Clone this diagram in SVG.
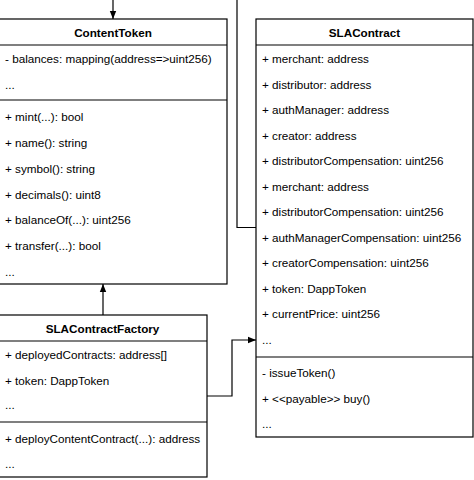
<svg xmlns="http://www.w3.org/2000/svg" width="474" height="480" viewBox="0 0 474 480">
<defs>
<style>
.box{fill:#fff;stroke:#000;stroke-width:1.2}
.sep{stroke:#000;stroke-width:1.2}
.t{font-family:"Liberation Sans",Arial,sans-serif;font-size:11.7px;fill:#000}
.h{font-family:"Liberation Sans",Arial,sans-serif;font-size:11.7px;font-weight:bold;fill:#000;text-anchor:middle}
.c{fill:none;stroke:#000;stroke-width:1.2}
</style>
<marker id="arr" viewBox="0 0 10 10" refX="10" refY="5" markerWidth="8" markerHeight="8" markerUnits="userSpaceOnUse" orient="auto">
<path d="M0,1 L10,5 L0,9 z" fill="#000"/>
</marker>
</defs>
<rect width="474" height="480" fill="#fff"/>
<g id="connectors">
<path class="c" d="M113,0 V19" marker-end="url(#arr)"/>
<path class="c" d="M237,0 V227.5 H256"/>
<path class="c" d="M103,315 V284" marker-end="url(#arr)"/>
<path class="c" d="M207,396 H232 V340 H256" marker-end="url(#arr)"/>
</g>
<g id="ContentToken">
<rect class="box" x="-2" y="19" width="229" height="265"/>
<line class="sep" x1="-2" y1="45" x2="227" y2="45"/>
<line class="sep" x1="-2" y1="100" x2="227" y2="100"/>
<text class="h" x="113" y="37">ContentToken</text>
<text class="t" x="5" y="63">- balances: mapping(address=&gt;uint256)</text>
<text class="t" x="5" y="89">...</text>
<text class="t" x="5" y="121">+ mint(...): bool</text>
<text class="t" x="5" y="147">+ name(): string</text>
<text class="t" x="5" y="173">+ symbol(): string</text>
<text class="t" x="5" y="198.5">+ decimals(): uint8</text>
<text class="t" x="5" y="224">+ balanceOf(...): uint256</text>
<text class="t" x="5" y="250">+ transfer(...): bool</text>
<text class="t" x="5" y="275.5">...</text>
</g>
<g id="SLAContract">
<rect class="box" x="256" y="19" width="217" height="418"/>
<line class="sep" x1="256" y1="45" x2="473" y2="45"/>
<line class="sep" x1="256" y1="357" x2="473" y2="357"/>
<text class="h" x="364.5" y="37">SLAContract</text>
<text class="t" x="262" y="63">+ merchant: address</text>
<text class="t" x="262" y="88.5">+ distributor: address</text>
<text class="t" x="262" y="114">+ authManager: address</text>
<text class="t" x="262" y="139.5">+ creator: address</text>
<text class="t" x="262" y="165">+ distributorCompensation: uint256</text>
<text class="t" x="262" y="190.5">+ merchant: address</text>
<text class="t" x="262" y="216">+ distributorCompensation: uint256</text>
<text class="t" x="262" y="241.5">+ authManagerCompensation: uint256</text>
<text class="t" x="262" y="267">+ creatorCompensation: uint256</text>
<text class="t" x="262" y="292.5">+ token: DappToken</text>
<text class="t" x="262" y="318">+ currentPrice: uint256</text>
<text class="t" x="262" y="343.5">...</text>
<text class="t" x="262" y="377">- issueToken()</text>
<text class="t" x="262" y="403">+ &lt;&lt;payable&gt;&gt; buy()</text>
<text class="t" x="262" y="428">...</text>
</g>
<g id="SLAContractFactory">
<rect class="box" x="-2" y="315" width="209" height="162"/>
<line class="sep" x1="-2" y1="341" x2="207" y2="341"/>
<line class="sep" x1="-2" y1="422" x2="207" y2="422"/>
<text class="h" x="102.5" y="333">SLAContractFactory</text>
<text class="t" x="5" y="359">+ deployedContracts: address[]</text>
<text class="t" x="5" y="384.5">+ token: DappToken</text>
<text class="t" x="5" y="409">...</text>
<text class="t" x="5" y="443">+ deployContentContract(...): address</text>
<text class="t" x="5" y="467.5">...</text>
</g>
</svg>
